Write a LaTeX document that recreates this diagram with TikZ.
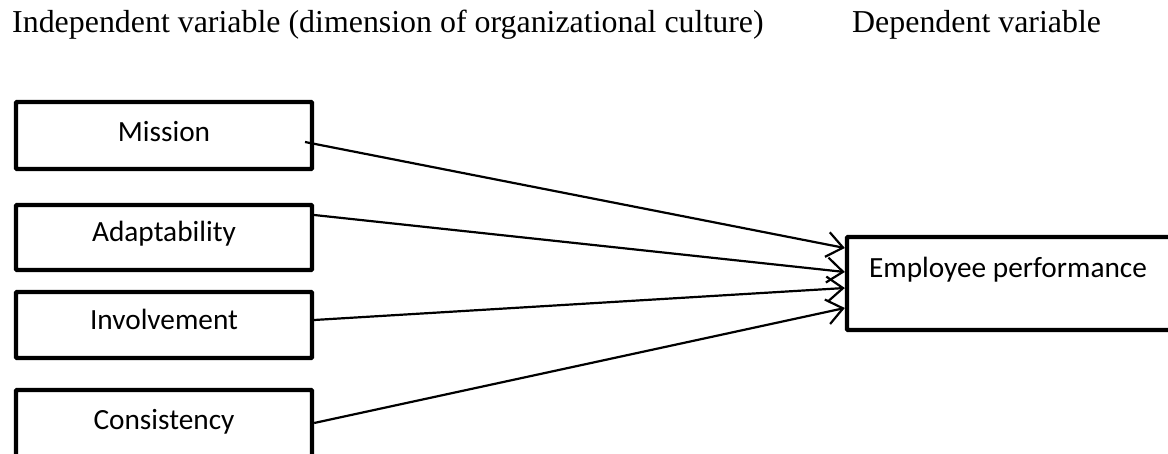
\documentclass[tikz,border=0pt]{standalone}
\usepackage{fontspec}
\setmainfont{Liberation Serif}
\newfontfamily\boxfont{Carlito}
\usetikzlibrary{arrows.meta,calc}
\begin{document}
\begin{tikzpicture}[x=1pt,y=-1pt,
  varbox/.style={draw,line width=4.3pt,rectangle,minimum width=296pt,minimum height=66pt,inner sep=0pt,rounded corners=0.8pt},
  boxtext/.style={anchor=base,font=\boxfont\fontsize{29.3}{34}\selectfont,inner sep=0pt},
  header/.style={anchor=base west,font=\fontsize{31.9}{36}\selectfont,inner sep=0pt},
  link/.style={line width=2.2pt,-{Straight Barb[length=16pt,width=25pt,line width=2.2pt]}}]
\useasboundingbox (0,0) rectangle (1168,454);
\clip (0,0) rectangle (1168,454);
\fill[white] (0,0) rectangle (1168,454);
% headers
\node[header] (indep) at (12,33) {Independent variable (dimension of organizational culture)};
\node[header] (dep) at (852,33) {Dependent variable};
% boxes
\node[varbox,minimum height=67pt] (mission) at (164,135.5) {};
\node[varbox,minimum height=65pt] (adapt) at (164,237.5) {};
\node[varbox] (invol) at (164,325) {};
\node[varbox,minimum height=70pt] (consis) at (164,425) {};
\node[varbox,minimum width=328pt,minimum height=93pt] (emp) at (1011,283.5) {};
% texts
\node[boxtext] (missiont) at (164,142) {Mission};
\node[boxtext] (adaptt) at (164,242) {Adaptability};
\node[boxtext] (involt) at (164,330) {Involvement};
\node[boxtext] (consist) at (164,429) {Consistency};
\node[boxtext] (empt) at (1008,278) {Employee performance};
% connector anchors
\coordinate (mstart) at (305,142);
\draw[link] (mstart) -- ($(emp.west)+(0,-35.5)$);
\draw[link] ($(adapt.east)+(0,-22.5)$) -- ($(emp.west)+(0,-11.5)$);
\draw[link] ($(invol.east)+(0,-5)$) -- ($(emp.west)+(0,4.5)$);
\draw[link] ($(consis.east)+(0,-2)$) -- ($(emp.west)+(0,24.5)$);
\end{tikzpicture}
\end{document}
